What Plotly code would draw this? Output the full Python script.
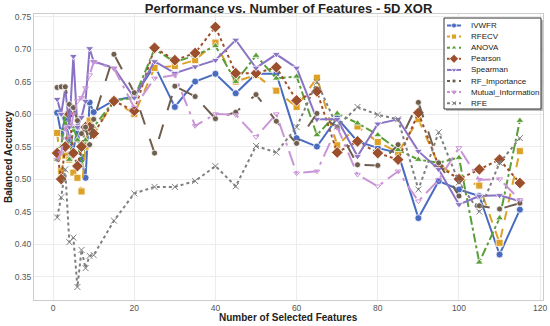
import plotly.graph_objects as go

features = [1, 2, 3, 4, 5, 6, 7, 8, 9, 10, 15, 20, 25, 30, 35, 40, 45, 50, 55, 60,
            65, 70, 75, 80, 85, 90, 95, 100, 105, 110, 115]

ivwfr = [0.602, 0.57, 0.594, 0.56, 0.543, 0.58, 0.53, 0.502, 0.618, 0.603, 0.621, 0.627,
         0.675, 0.611, 0.650, 0.662, 0.632, 0.662, 0.662, 0.563, 0.550, 0.594, 0.558,
         0.548, 0.540, 0.440, 0.497, 0.484, 0.474, 0.384, 0.453]
rfecv = [0.571, 0.512, 0.536, 0.53, 0.51, 0.502, 0.481, 0.55, 0.59, 0.568, 0.621, 0.600,
         0.671, 0.674, 0.683, 0.710, 0.650, 0.660, 0.636, 0.611, 0.656, 0.552, 0.581,
         0.557, 0.541, 0.592, 0.522, 0.502, 0.490, 0.402, 0.543]
anova = [0.53, 0.55, 0.60, 0.53, 0.58, 0.56, 0.52, 0.56, 0.57, 0.58, 0.621, 0.625,
         0.700, 0.680, 0.690, 0.705, 0.650, 0.690, 0.655, 0.658, 0.568, 0.601, 0.586,
         0.568, 0.545, 0.530, 0.525, 0.533, 0.372, 0.440, 0.590]
pearson = [0.54, 0.50, 0.55, 0.60, 0.54, 0.52, 0.55, 0.58, 0.58, 0.57, 0.62, 0.605,
           0.702, 0.683, 0.694, 0.734, 0.663, 0.663, 0.672, 0.621, 0.635, 0.541, 0.558,
           0.540, 0.530, 0.602, 0.520, 0.500, 0.515, 0.530, 0.494]
spearman = [0.623, 0.60, 0.64, 0.58, 0.689, 0.58, 0.595, 0.62, 0.701, 0.681, 0.671, 0.625,
            0.681, 0.663, 0.673, 0.683, 0.714, 0.671, 0.692, 0.671, 0.592, 0.592, 0.535,
            0.585, 0.592, 0.543, 0.515, 0.461, 0.474, 0.475, 0.466]
rf_importance = [0.641, 0.642, 0.642, 0.615, 0.61, 0.59, 0.57, 0.58, 0.553, 0.592, 0.692,
                 0.633, 0.540, 0.643, 0.627, 0.593, 0.603, 0.630, 0.589, 0.555, 0.601,
                 0.580, 0.522, 0.521, 0.553, 0.618, 0.525, 0.474, 0.459, 0.454, 0.463]
mutual_info = [0.53, 0.54, 0.58, 0.56, 0.60, 0.62, 0.625, 0.64, 0.66, 0.68, 0.67, 0.610,
               0.655, 0.660, 0.582, 0.600, 0.599, 0.565, 0.600, 0.509, 0.512, 0.580,
               0.507, 0.489, 0.512, 0.466, 0.499, 0.548, 0.499, 0.500, 0.468]
rfe = [0.441, 0.472, 0.515, 0.403, 0.410, 0.334, 0.391, 0.363, 0.382, 0.383, 0.436, 0.478,
       0.488, 0.488, 0.497, 0.520, 0.489, 0.551, 0.541, 0.580, 0.649, 0.581, 0.611,
       0.599, 0.592, 0.484, 0.572, 0.495, 0.450, 0.525, 0.563]

series = [
    ("IVWFR", ivwfr, "#4a6cc0", "solid", "circle", 7),
    ("RFECV", rfecv, "#dda126", "dash", "square", 7),
    ("ANOVA", anova, "#5a9e3a", "dashdot", "triangle-up", 7),
    ("Pearson", pearson, "#9c4f2c", "dot", "diamond", 9),
    ("Spearman", spearman, "#8a72c4", "solid", "triangle-down", 7),
    ("RF_Importance", rf_importance, "#6f5e4e", "longdash", "circle", 6),
    ("Mutual_Information", mutual_info, "#c995d6", "longdashdot", "triangle-down-open", 5),
    ("RFE", rfe, "#7f7f7f", "dot", "x-thin-open", 6),
]

# plot area in page pixels
L, R, T, B = 34, 543, 14, 300
W, H = 550, 326


def marker_style(symbol, size, color):
    if symbol.endswith("-open"):
        return dict(symbol=symbol, size=size, color=color, line=dict(color=color, width=1))
    return dict(symbol=symbol, size=size, color=color, line=dict(color="white", width=0.8))


fig = go.Figure()
for name, vals, color, dash, symbol, size in series:
    fig.add_trace(go.Scatter(
        x=features, y=vals, name=name, mode="lines+markers",
        line=dict(color=color, width=2, dash=dash),
        marker=marker_style(symbol, size, color),
        showlegend=False, hoverinfo="skip",
    ))

# ---- custom compact legend drawn on an overlay pixel-space axis ----
box_x0, box_x1, box_y0, box_y1 = 444, 541, 18, 109
item_y0, item_dy = 25.5, 11.1
fig.add_trace(go.Scatter(
    x=[box_x0 + 2, box_x1 + 2, box_x1 + 2, box_x0 + 2, box_x0 + 2],
    y=[box_y0 + 2, box_y0 + 2, box_y1 + 2, box_y1 + 2, box_y0 + 2],
    xaxis="x2", yaxis="y2", mode="lines", fill="toself",
    fillcolor="rgba(0,0,0,0.25)", line=dict(width=0, color="rgba(0,0,0,0)"),
    showlegend=False, hoverinfo="skip"))
fig.add_trace(go.Scatter(
    x=[box_x0, box_x1, box_x1, box_x0, box_x0],
    y=[box_y0, box_y0, box_y1, box_y1, box_y0],
    xaxis="x2", yaxis="y2", mode="lines", fill="toself",
    fillcolor="white", line=dict(width=1, color="#333333"),
    showlegend=False, hoverinfo="skip"))
annotations = []
for i, (name, vals, color, dash, symbol, size) in enumerate(series):
    yy = item_y0 + i * item_dy
    fig.add_trace(go.Scatter(
        x=[447, 461], y=[yy, yy], xaxis="x2", yaxis="y2", mode="lines",
        line=dict(color=color, width=2, dash="solid" if dash == "solid" else "dot"),
        showlegend=False, hoverinfo="skip"))
    fig.add_trace(go.Scatter(
        x=[454], y=[yy], xaxis="x2", yaxis="y2", mode="markers",
        marker=marker_style(symbol, max(size - 2, 4), color),
        showlegend=False, hoverinfo="skip"))
    annotations.append(dict(
        x=469, y=yy, xref="x2", yref="y2", text=name, showarrow=False,
        xanchor="left", yanchor="middle",
        font=dict(size=8, color="#222")))

annotations.append(dict(
    x=0.5, y=(B - 317) / (B - T), xref="paper", yref="paper",
    text="<b>Number of Selected Features</b>", showarrow=False,
    xanchor="center", yanchor="middle", font=dict(size=10, color="#222")))
annotations.append(dict(
    x=(8 - L) / (R - L), y=(B - 157) / (B - T), xref="paper", yref="paper",
    text="<b>Balanced Accuracy</b>", showarrow=False, textangle=-90,
    xanchor="center", yanchor="middle", font=dict(size=10, color="#222")))

fig.update_layout(
    width=W, height=H,
    margin=dict(l=L, r=W - R, t=T, b=H - B, autoexpand=False),
    paper_bgcolor="white", plot_bgcolor="white",
    font=dict(family="Liberation Sans, Arial, sans-serif", size=9, color="#444"),
    title=dict(text="<b>Performance vs. Number of Features - 5D XOR</b>",
               x=0.5, xanchor="center", y=1 - 8 / H, yanchor="middle",
               xref="paper", yref="container",
               font=dict(size=13, color="#222")),
    showlegend=False,
    annotations=annotations,
    xaxis2=dict(range=[L, R], overlaying="x", visible=False, fixedrange=True,
                anchor="y2"),
    yaxis2=dict(range=[B, T], overlaying="y", visible=False, fixedrange=True,
                anchor="x2"),
    xaxis=dict(
        range=[-4.7, 120.7], tickvals=[0, 20, 40, 60, 80, 100, 120],
        showgrid=True, gridcolor="#ececec", gridwidth=1, zeroline=False,
        showline=True, linecolor="#cccccc", mirror=True, ticks="", automargin=False,
        tickfont=dict(size=8.5, color="#555"),
    ),
    yaxis=dict(
        range=[0.314, 0.754],
        tickvals=[0.35, 0.40, 0.45, 0.50, 0.55, 0.60, 0.65, 0.70, 0.75],
        tickformat=".2f",
        showgrid=True, gridcolor="#ececec", gridwidth=1, zeroline=False,
        showline=True, linecolor="#cccccc", mirror=True, ticks="", automargin=False,
        tickfont=dict(size=8.5, color="#555"),
    ),
)

fig.write_html("out.html", config={"displayModeBar": False},
               post_script="document.body.style.margin='0';document.body.style.overflow='hidden';")
